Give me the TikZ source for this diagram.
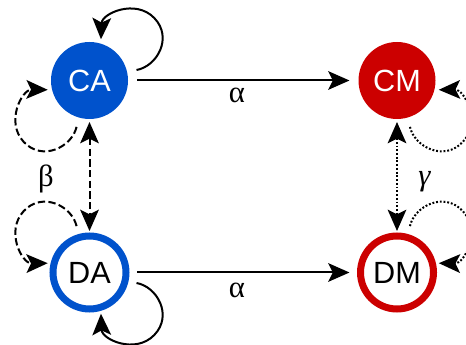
\documentclass[tikz,border=0pt]{standalone}
\usepackage{fontspec}
\setmainfont{Liberation Sans}
\newfontfamily\greekfont{Liberation Serif}
\usetikzlibrary{arrows.meta,calc}
\definecolor{stateblue}{RGB}{0,82,204}
\definecolor{statered}{RGB}{204,0,0}
\begin{document}
\begin{tikzpicture}[x=0.75pt,y=0.75pt,
  >={Stealth[length=16pt,width=14pt,inset=3.5pt]},
  state/.style={circle, inner sep=0pt, font=\fontsize{23}{23}\selectfont},
  active/.style={state, minimum size=57.75pt, fill=#1, draw=none, text=white, outer sep=2.25pt},
  dormant/.style={state, minimum size=54.75pt, draw=#1, line width=5.25pt, fill=white, text=black, outer sep=3.75pt},
  flow/.style={line width=1.5pt, ->},
  twoway/.style={line width=1.5pt, <->},
  dashline/.style={dash pattern=on 5.5pt off 2.5pt},
  dotline/.style={dash pattern=on 1.4pt off 1.4pt},
  rate/.style={font=\greekfont\fontsize{23}{23}\selectfont},
  selfloop/.style={looseness=1.2, shorten <=5pt, shorten >=1pt}
]
\useasboundingbox (0,0) rectangle (466,345);
\clip (0,0) rectangle (466,345);
\fill[white] (0,0) rectangle (466,345);

% states
\node[active=stateblue] (CA) at (89.5,264.5) {CA};
\node[active=statered]  (CM) at (397,264.5) {CM};
\node[dormant=stateblue] (DA) at (89.5,72.5) {DA};
\node[dormant=statered]  (DM) at (397,72.5) {DM};

% transitions between states
\draw[flow, shorten <=4.5pt, shorten >=4.5pt] (CA) -- (CM);
\draw[flow, shorten <=4.5pt, shorten >=4.5pt] (DA) -- (DM);
\draw[twoway, dashline] (CA) -- (DA);
\draw[twoway, dotline] (CM) -- (DM);

% rate labels
\node[rate] (a1) at (237,249.5) {α};
\node[rate] (a2) at (237,55) {α};
\node[rate] (b)  at (46,166) {β};
\node[rate] (g)  at (424.5,163) {\itshape γ};

% self transitions: each loop passes through a far point on its outer side
\draw[flow, selfloop] (CA.13) to[out=10, in=-46] ($(CA)+(44:90)$)
  to[out=134, in=88] (CA.74);
\draw[flow, selfloop, dashline] (CA.254) to[out=257, in=313] ($(CA)+(223:90)$)
  to[out=133, in=179] (CA.193);
\draw[flow, selfloop, dashline] (DA.106) to[out=103, in=47] ($(DA)+(137:90)$)
  to[out=227, in=181] (DA.167);
\draw[flow, selfloop] (DA.-13) to[out=-10, in=46] ($(DA)+(-44:90)$)
  to[out=-134, in=-88] (DA.-74);
\draw[flow, selfloop, dotline] (CM.-74) to[out=-77, in=-133] ($(CM)+(-43:90)$)
  to[out=47, in=1] (CM.-13);
\draw[flow, selfloop, dotline] (DM.74) to[out=77, in=133] ($(DM)+(43:90)$)
  to[out=-47, in=-1] (DM.13);
\end{tikzpicture}
\end{document}
